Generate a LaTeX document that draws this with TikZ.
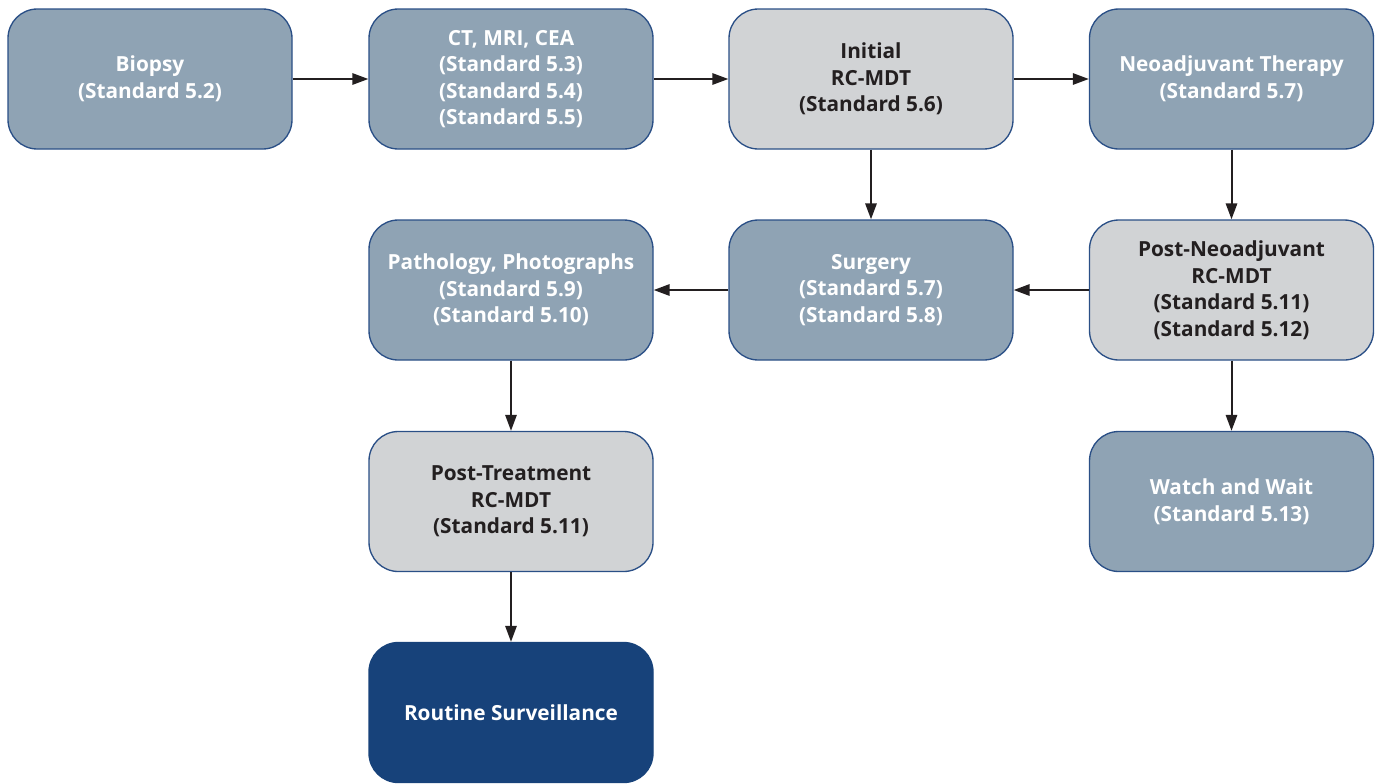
\documentclass[tikz,border=0pt]{standalone}
\usepackage{fontspec}
\setmainfont{Open Sans}
\usetikzlibrary{arrows.meta}
\definecolor{bluegray}{HTML}{8FA3B4}
\definecolor{lightgray}{HTML}{D1D3D5}
\definecolor{darkblue}{HTML}{17427A}
\definecolor{edgeblue}{HTML}{2A4F86}
\definecolor{ink}{HTML}{231F20}
\tikzset{
  box/.style={draw=edgeblue, line width=1pt, rounded corners=22pt,
    minimum width=213pt, minimum height=105pt, align=center,
    font=\fontsize{15.6}{19.9}\selectfont\bfseries, inner sep=0pt},
  bgbox/.style={box, fill=bluegray, text=white},
  lgbox/.style={box, fill=lightgray, text=ink},
  dbbox/.style={box, fill=darkblue, draw=darkblue, text=white},
  arr/.style={draw=ink, line width=1.5pt, -{Triangle[length=12pt,width=8.5pt]}}
}
\begin{document}
\begin{tikzpicture}[x=0.75pt,y=-0.75pt]
\useasboundingbox (0,0) rectangle (1377,783);
\node[bgbox] (biopsy) at (150,79) {Biopsy\\(Standard 5.2)};
\node[bgbox] (ct) at (511,79) {CT, MRI, CEA\\(Standard 5.3)\\(Standard 5.4)\\(Standard 5.5)};
\node[lgbox] (init) at (871,79) {Initial\\RC-MDT\\(Standard 5.6)};
\node[bgbox] (neo) at (1231.5,79) {Neoadjuvant Therapy\\(Standard 5.7)};
\node[bgbox] (path) at (511,290) {Pathology, Photographs\\(Standard 5.9)\\(Standard 5.10)};
\node[bgbox] (surg) at (871,290) {Surgery\\(Standard 5.7)\\(Standard 5.8)};
\node[lgbox] (postneo) at (1231.5,290) {Post-Neoadjuvant\\RC-MDT\\(Standard 5.11)\\(Standard 5.12)};
\node[lgbox] (posttr) at (511,501.5) {Post-Treatment\\RC-MDT\\(Standard 5.11)};
\node[bgbox] (watch) at (1231.5,501.5) {Watch and Wait\\(Standard 5.13)};
\node[dbbox] (routine) at (511,712.5) {Routine Surveillance};
\draw[arr] (biopsy) -- (ct);
\draw[arr] (ct) -- (init);
\draw[arr] (init) -- (neo);
\draw[arr] (init) -- (surg);
\draw[arr] (neo) -- (postneo);
\draw[arr] (postneo) -- (surg);
\draw[arr] (surg) -- (path);
\draw[arr] (postneo) -- (watch);
\draw[arr] (path) -- (posttr);
\draw[arr] (posttr) -- (routine);
\end{tikzpicture}
\end{document}
